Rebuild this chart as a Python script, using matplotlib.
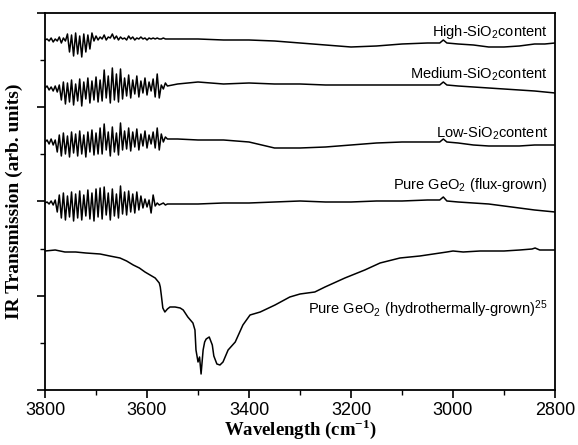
import numpy as np
import matplotlib
matplotlib.use('Agg')
import matplotlib.pyplot as plt
from matplotlib.ticker import MultipleLocator, NullFormatter

# Wavenumber grids (cm-1)
# fine grid for the fringe region, coarse grid for the smooth tail
osc_wn = list(range(3800, 3556, -4))
tail_wn = [3540, 3500, 3450, 3400, 3350, 3300, 3250, 3200, 3150, 3100, 3050,
           3026, 3019, 3012, 2990, 2960, 2930, 2900, 2870, 2840, 2820, 2800]

# IR transmission, arbitrary units (offset curves)
high_osc = [350, 351, 349, 352, 348, 351, 349, 353, 347, 352, 349,
            356, 338, 355, 334, 357, 336, 354, 333, 356, 338, 355, 341, 357,
            349, 354, 350, 353, 351, 355, 350, 353, 352, 356, 351, 354, 350,
            353, 351, 352, 350, 354, 351, 353, 350, 352, 351, 353, 351, 352,
            350, 352, 351, 352, 351, 352, 351, 351, 352, 351, 351]
high_tail = [351, 351, 350, 350, 349, 347, 345, 343, 344, 346, 347,
             347, 350, 347, 346, 345, 343, 343, 344, 346, 346, 347]

medium_osc = [302, 304, 300, 303, 299, 304, 298, 305,
              290, 308, 286, 307, 288, 310, 285, 306, 289, 311, 284, 308,
              291, 312, 287, 309, 290, 313, 288, 310,
              289, 320, 292, 314, 287, 322, 290, 316, 288, 321, 291, 312,
              294, 315, 292, 310, 296, 314, 293, 309, 297, 312, 295, 308,
              299, 311, 293, 316, 292, 305, 301, 307, 304]
medium_tail = [306, 308, 306, 307, 306, 306, 305, 305, 305, 305, 305,
               305, 308, 305, 304, 303, 302, 301, 300, 299, 298, 297]

low_osc = [248, 250, 246, 251, 245, 250,
           238, 255, 234, 257, 236, 254, 233, 258, 237, 256, 234, 259, 236,
           255, 233, 258, 238, 260, 235, 257, 236, 262,
           236, 266, 240, 258, 234, 263, 238, 257, 235, 267, 240, 259,
           241, 262, 239, 258, 243, 261, 240, 256, 244, 259, 242, 255, 246,
           258, 242, 262, 240, 256, 248, 253, 251]
low_tail = [251, 250, 250, 248, 242, 242, 243, 245, 247, 248, 248,
            248, 251, 248, 247, 245, 244, 244, 244, 245, 245, 245]

flux_osc = [187, 188, 186, 189, 185,
            190, 178, 195, 172, 197, 170, 194, 173, 198, 169, 196, 172, 199,
            170, 195, 174, 200, 171, 197, 169, 201, 173, 202,
            171, 203, 175, 197, 170, 201, 174, 196, 172, 204, 176, 198,
            175, 199, 178, 196, 177, 198, 180, 194,
            182, 191, 183, 190, 177, 195, 184,
            187, 185, 186, 187, 185, 186]
flux_tail = [186, 186, 187, 187, 188, 189, 188, 188, 189, 189, 190,
             190, 193, 189, 188, 187, 186, 184, 182, 180, 179, 178]

hydro_wn = [3800, 3780, 3761, 3740, 3720, 3692, 3673, 3653, 3640, 3627, 3615,
            3604, 3584, 3576, 3574, 3572, 3569, 3565, 3560, 3555, 3545, 3535,
            3529, 3520, 3510, 3506, 3504, 3500, 3497, 3494, 3490, 3487, 3484,
            3478, 3472, 3469, 3463, 3457, 3451, 3441, 3427, 3412, 3398, 3378,
            3349, 3320, 3300, 3271, 3251, 3212, 3173, 3143, 3104, 3065, 3012,
            3000, 2980, 2947, 2900, 2869, 2845, 2839, 2830, 2800]
hydro_val = [139, 140, 138, 138, 137, 136, 134, 132, 129, 125, 122,
             118, 112, 107, 103, 95, 82, 78, 81, 83, 83, 82,
             80, 73, 67, 60, 40, 28, 33, 16, 40, 48, 51,
             53, 45, 34, 26, 25, 28, 40, 48, 65, 75, 78,
             85, 93, 96, 98, 103, 112, 120, 127, 132, 134, 138,
             139, 138, 139, 139, 140, 141, 142, 140, 140]

labels = ['High-SiO$_2$content', 'Medium-SiO$_2$content', 'Low-SiO$_2$content',
          'Pure GeO$_2$ (flux-grown)', 'Pure GeO$_2$ (hydrothermally-grown)$^{25}$']
label_y = [354, 311, 252, 201, 76]

plt.rcParams['font.family'] = ['Liberation Sans', 'DejaVu Sans']
plt.rcParams['mathtext.fontset'] = 'custom'
plt.rcParams['mathtext.rm'] = 'Liberation Sans'
plt.rcParams['mathtext.it'] = 'Liberation Sans'
plt.rcParams['mathtext.bf'] = 'Liberation Serif:bold'

fig = plt.figure(figsize=(5.78, 4.45), dpi=100)
ax = fig.add_axes([0.0779, 0.1236, 0.8823, 0.8472])

wn_all = osc_wn + tail_wn
for osc, tail in [(high_osc, high_tail), (medium_osc, medium_tail),
                  (low_osc, low_tail), (flux_osc, flux_tail)]:
    ax.plot(wn_all, osc + tail, color='black', lw=1.1)
ax.plot(hydro_wn, hydro_val, color='black', lw=1.1)

for txt, yy in zip(labels, label_y):
    ax.text(2814, yy, txt, ha='right', va='baseline', fontsize=10.5)

ax.set_xlim(3800, 2800)
ax.set_ylim(0, 377)
ax.xaxis.set_major_locator(MultipleLocator(200))
ax.xaxis.set_minor_locator(MultipleLocator(100))
ax.yaxis.set_major_locator(MultipleLocator(94.25))
ax.yaxis.set_minor_locator(MultipleLocator(47.125))
ax.yaxis.set_major_formatter(NullFormatter())

ax.tick_params(which='major', direction='out', length=6, width=1.2, labelsize=13, pad=3)
ax.tick_params(which='minor', direction='out', length=3.5, width=1.0)
ax.tick_params(top=False, right=False)
for sp in ax.spines.values():
    sp.set_linewidth(1.3)

ax.set_xlabel('Wavelength (cm$^{\\mathbf{-1}}$)', family='Liberation Serif',
              fontweight='bold', fontsize=13.5, labelpad=-1)
ax.set_ylabel('IR Transmission (arb. units)', family='Liberation Serif',
              fontweight='bold', fontsize=14, labelpad=7)

fig.savefig('out.png', dpi=100)
